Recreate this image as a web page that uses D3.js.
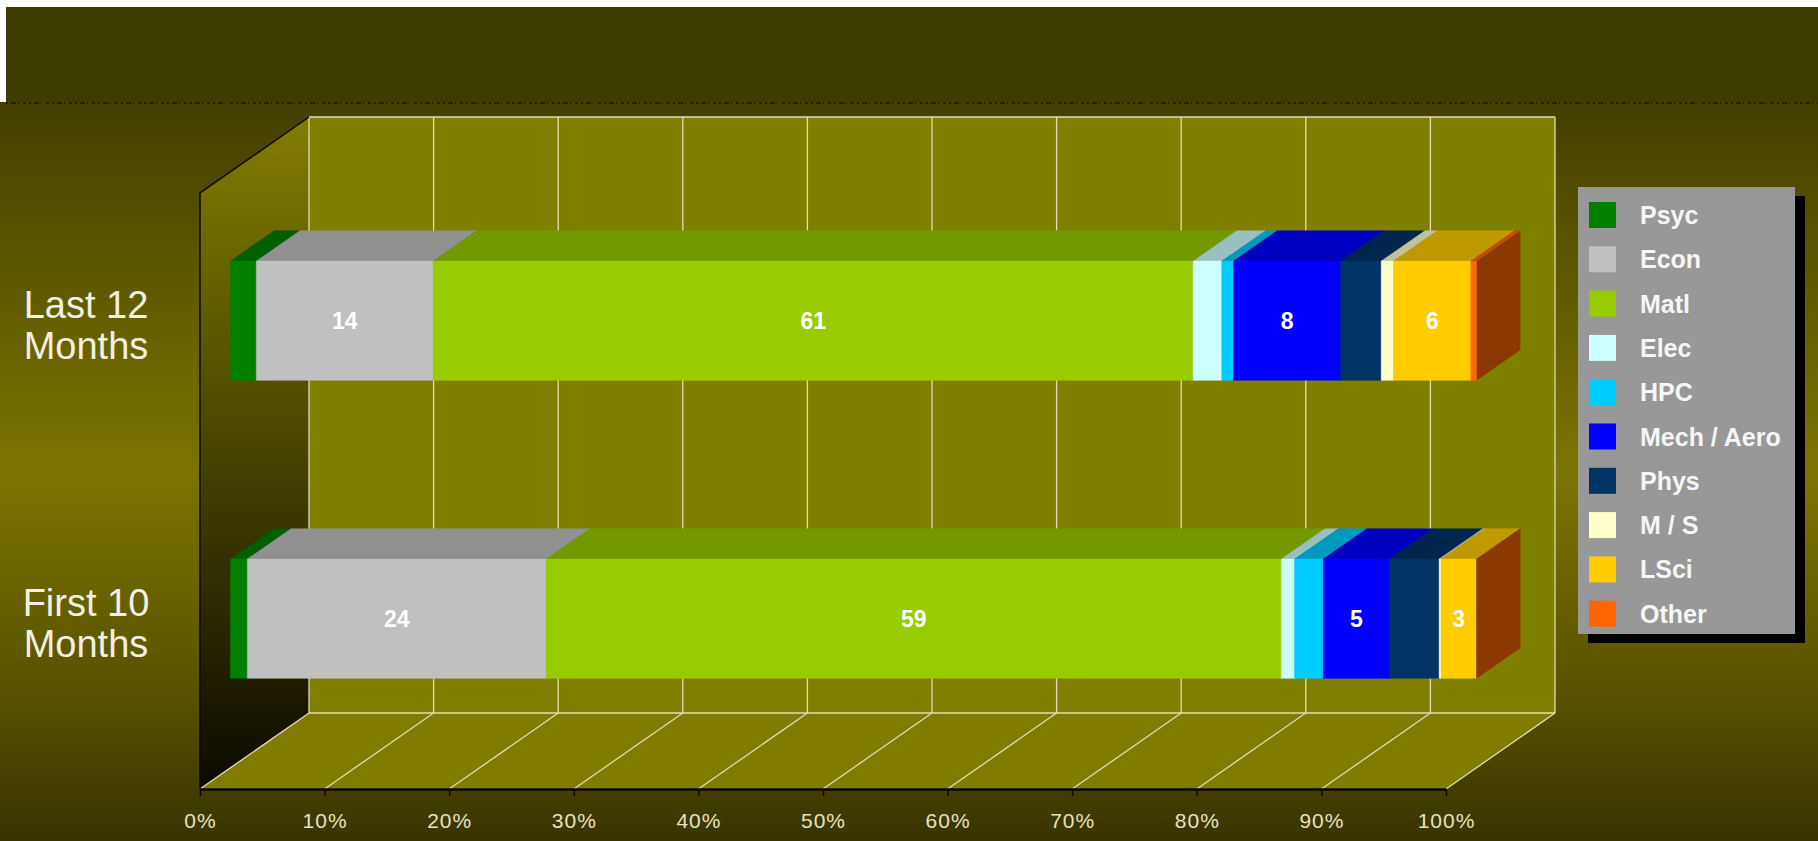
<!DOCTYPE html>
<html>
<head>
<meta charset="utf-8">
<script src="https://cdn.jsdelivr.net/npm/d3@7"></script>
<style>
  body { margin: 0; background: #ffffff; }
  svg { display: block; }
</style>
</head>
<body>
<svg id="chart"></svg>
<script>

const categories = ["Last 12 Months", "First 10 Months"];
const categoryLines = [["Last 12", "Months"], ["First 10", "Months"]];
const series = ["Psyc", "Econ", "Matl", "Elec", "HPC", "Mech / Aero", "Phys", "M / S", "LSci", "Other"];
const seriesColors = ["#008000", "#c0c0c0", "#99cc00", "#ccffff", "#00ccff", "#0000ff", "#003366", "#ffffcc", "#ffcc00", "#ff6600"];

// share of each group
const last12Values = [2.07, 14.2, 61.0, 2.3, 0.94, 8.6, 3.25, 1.0, 6.2, 0.45];
const first10Values = [1.35, 24.0, 59.0, 1.07, 2.3, 5.3, 4.0, 0.15, 2.85, 0];

// data labels shown on the bars (null = no label)
const last12Labels = [null, 14, 61, null, null, 8, null, null, 6, null];
const first10Labels = [null, 24, 59, null, null, 5, null, null, 3, null];

const tickValues = [0, 0.1, 0.2, 0.3, 0.4, 0.5, 0.6, 0.7, 0.8, 0.9, 1];


function create_chart() {

  const svg_dims = {width: 1818, height: 841};
  const plot = {left: 200, right: 1446, top: 193, bottom: 789};
  const depth = {dx: 109, dy: -76};
  const bar_d0 = 0.28, bar_d1 = 0.68;

  const svg = d3.select('#chart')
      .attr("width", svg_dims.width)
      .attr("height", svg_dims.height);

  const defs = svg.append("defs");

  const bg_grad = defs.append("linearGradient")
      .attr("id", "bgGrad").attr("x1", 0).attr("y1", 0).attr("x2", 0).attr("y2", 1);
  bg_grad.append("stop").attr("offset", "0%").attr("stop-color", "#433f00");
  bg_grad.append("stop").attr("offset", "50%").attr("stop-color", "#7b7500");
  bg_grad.append("stop").attr("offset", "78%").attr("stop-color", "#5a5400");
  bg_grad.append("stop").attr("offset", "100%").attr("stop-color", "#383400");

  const wall_grad = defs.append("linearGradient")
      .attr("id", "wallGrad").attr("x1", 0).attr("y1", 0).attr("x2", 0).attr("y2", 1);
  wall_grad.append("stop").attr("offset", "0%").attr("stop-color", "#827d00");
  wall_grad.append("stop").attr("offset", "100%").attr("stop-color", "#0c0a00");

  // background
  svg.append("rect")
      .attr("x", 6).attr("y", 7)
      .attr("width", svg_dims.width - 6).attr("height", 96)
      .attr("fill", "#403c00");
  svg.append("rect")
      .attr("x", 0).attr("y", 102)
      .attr("width", svg_dims.width).attr("height", svg_dims.height - 102)
      .attr("fill", "url(#bgGrad)");
  svg.append("line")
      .attr("x1", 6).attr("x2", svg_dims.width)
      .attr("y1", 103).attr("y2", 103)
      .attr("stroke", "#1c1a00")
      .attr("stroke-width", 1.5)
      .attr("stroke-dasharray", "2,3,5,2,1,4,3,3");

  var x_scale = d3.scaleLinear()
      .domain([0, 1])
      .range([plot.left, plot.right]);

  var y_scale = d3.scaleBand()
      .domain(categories)
      .range([plot.top, plot.bottom])
      .paddingInner(0.6)
      .paddingOuter(0.3);

  // project a point on the front plane back by a depth fraction d
  function proj(xv, yv, d) {
    return [x_scale(xv) + d * depth.dx, yv + d * depth.dy];
  }
  function pts(list) {
    return list.map(p => p[0] + "," + p[1]).join(" ");
  }

  const g = svg.append("g").attr("id", "plot");

  // back wall
  const bw0 = proj(0, plot.top, 1), bw1 = proj(1, plot.bottom, 1);
  g.append("rect")
      .attr("x", bw0[0]).attr("y", bw0[1])
      .attr("width", bw1[0] - bw0[0]).attr("height", bw1[1] - bw0[1])
      .attr("fill", "#808000");

  // left wall
  g.append("polygon")
      .attr("points", pts([proj(0, plot.top, 0), proj(0, plot.top, 1), proj(0, plot.bottom, 1), proj(0, plot.bottom, 0)]))
      .attr("fill", "url(#wallGrad)");

  // floor
  g.append("polygon")
      .attr("points", pts([proj(0, plot.bottom, 0), proj(1, plot.bottom, 0), proj(1, plot.bottom, 1), proj(0, plot.bottom, 1)]))
      .attr("fill", "#807c00");

  const grid_color = "#e2deb0";

  // gridlines on back wall and floor
  g.selectAll(".grid-back")
      .data(tickValues)
      .enter().append("line")
      .attr("class", "grid-back")
      .attr("x1", d => proj(d, plot.top, 1)[0])
      .attr("x2", d => proj(d, plot.bottom, 1)[0])
      .attr("y1", proj(0, plot.top, 1)[1])
      .attr("y2", proj(0, plot.bottom, 1)[1])
      .attr("stroke", grid_color)
      .attr("stroke-width", 1.3);

  g.selectAll(".grid-floor")
      .data(tickValues)
      .enter().append("line")
      .attr("class", "grid-floor")
      .attr("x1", d => proj(d, plot.bottom, 0)[0])
      .attr("y1", d => proj(d, plot.bottom, 0)[1])
      .attr("x2", d => proj(d, plot.bottom, 1)[0])
      .attr("y2", d => proj(d, plot.bottom, 1)[1])
      .attr("stroke", grid_color)
      .attr("stroke-width", 1.3);

  g.append("line")
      .attr("x1", proj(0, plot.top, 1)[0]).attr("y1", proj(0, plot.top, 1)[1])
      .attr("x2", proj(1, plot.top, 1)[0]).attr("y2", proj(1, plot.top, 1)[1])
      .attr("stroke", grid_color).attr("stroke-width", 1.5);
  g.append("line")
      .attr("x1", proj(0, plot.bottom, 1)[0]).attr("y1", proj(0, plot.bottom, 1)[1])
      .attr("x2", proj(1, plot.bottom, 1)[0]).attr("y2", proj(1, plot.bottom, 1)[1])
      .attr("stroke", grid_color).attr("stroke-width", 1.5);

  // left wall edges
  g.append("polyline")
      .attr("points", pts([proj(0, plot.bottom, 0), proj(0, plot.top, 0), proj(0, plot.top, 1)]))
      .attr("fill", "none")
      .attr("stroke", "#0a0800")
      .attr("stroke-width", 1.5);

  // bars
  const rows = categories.map(function(c, i) {
    const vals = [last12Values, first10Values][i];
    const o = {category: c};
    series.forEach((s, j) => o[s] = vals[j]);
    return o;
  });
  const labels = [last12Labels, first10Labels];

  const stack = d3.stack()
      .keys(series)
      .offset(d3.stackOffsetExpand);
  const layers = stack(rows);

  const bh = y_scale.bandwidth();

  layers.forEach(function(layer, j) {
    const col = seriesColors[j];
    const top_col = d3.color(col).darker(0.8).formatHex();
    const side_col = d3.color(col).darker(1.7).formatHex();
    const lg = g.append("g").attr("class", "series");

    layer.forEach(function(seg, i) {
      const yt = y_scale(seg.data.category), yb = yt + bh;
      const x0 = seg[0], x1 = seg[1];

      lg.append("polygon")
          .attr("points", pts([proj(x1, yt, bar_d0), proj(x1, yt, bar_d1), proj(x1, yb, bar_d1), proj(x1, yb, bar_d0)]))
          .attr("fill", side_col).attr("stroke", side_col).attr("stroke-width", 0.5);

      if (x1 > x0) {
        lg.append("polygon")
            .attr("points", pts([proj(x0, yt, bar_d0), proj(x1, yt, bar_d0), proj(x1, yt, bar_d1), proj(x0, yt, bar_d1)]))
            .attr("fill", top_col).attr("stroke", top_col).attr("stroke-width", 0.5);

        lg.append("polygon")
            .attr("points", pts([proj(x0, yt, bar_d0), proj(x1, yt, bar_d0), proj(x1, yb, bar_d0), proj(x0, yb, bar_d0)]))
            .attr("fill", col).attr("stroke", col).attr("stroke-width", 0.5);
      }
    });
  });

  // data labels
  layers.forEach(function(layer, j) {
    layer.forEach(function(seg, i) {
      const lab = labels[i][j];
      if (lab === null) return;
      const p = proj((seg[0] + seg[1]) / 2, y_scale(seg.data.category) + bh / 2, bar_d0);
      g.append("text")
          .attr("x", p[0])
          .attr("y", p[1])
          .attr("dy", "0.36em")
          .attr("text-anchor", "middle")
          .style("font-family", "'Liberation Sans', Arial, sans-serif")
          .style("font-weight", "bold")
          .style("font-size", "23px")
          .attr("fill", "#ffffff")
          .text(lab);
    });
  });

  // x axis on the front edge of the floor
  const axis = g.append("g")
      .attr("class", "x-axis")
      .attr("transform", "translate(0," + plot.bottom + ")")
      .call(d3.axisBottom(x_scale)
        .tickValues(tickValues)
        .tickFormat(d3.format(".0%"))
        .tickSize(7)
        .tickSizeOuter(0)
        .tickPadding(17));
  axis.select(".domain").attr("stroke", "#0a0800").attr("stroke-width", 2.5);
  axis.selectAll(".tick line").attr("stroke", "#0a0800").attr("stroke-width", 1.5);
  axis.selectAll(".tick text")
      .attr("fill", "#e6e2c0")
      .style("font-family", "'Liberation Sans', Arial, sans-serif")
      .style("font-size", "21px")
      .style("letter-spacing", "1px");

  // category labels
  categories.forEach(function(c, i) {
    const fc = y_scale(c) + bh / 2 + bar_d0 * depth.dy;
    const t = svg.append("text")
        .attr("text-anchor", "middle")
        .style("font-family", "'Liberation Sans', Arial, sans-serif")
        .style("font-size", "38px")
        .attr("fill", "#f2f0e2");
    categoryLines[i].forEach(function(line, k) {
      t.append("tspan")
          .attr("x", 86)
          .attr("y", fc - 3 + k * 41)
          .text(line);
    });
  });

  // legend
  const legend = {x: 1578, y: 187, width: 217, height: 447, row: 44.3};
  svg.append("rect")
      .attr("x", legend.x + 10).attr("y", legend.y + 9)
      .attr("width", legend.width).attr("height", legend.height)
      .attr("fill", "#000000");
  svg.append("rect")
      .attr("x", legend.x).attr("y", legend.y)
      .attr("width", legend.width).attr("height", legend.height)
      .attr("fill", "#989898");

  const items = svg.selectAll(".legend-item")
      .data(series)
      .enter().append("g")
      .attr("class", "legend-item")
      .attr("transform", (d, i) => "translate(" + (legend.x + 11) + "," + (legend.y + 28 + i * legend.row) + ")");

  items.append("rect")
      .attr("x", 0).attr("y", -13)
      .attr("width", 27).attr("height", 26)
      .attr("fill", (d, i) => seriesColors[i]);

  items.append("text")
      .attr("x", 51)
      .attr("y", 0)
      .attr("dy", "0.36em")
      .style("font-family", "'Liberation Sans', Arial, sans-serif")
      .style("font-weight", "bold")
      .style("font-size", "25px")
      .attr("fill", "#f6f6f6")
      .text(d => d);
}

create_chart();

</script>
</body>
</html>
